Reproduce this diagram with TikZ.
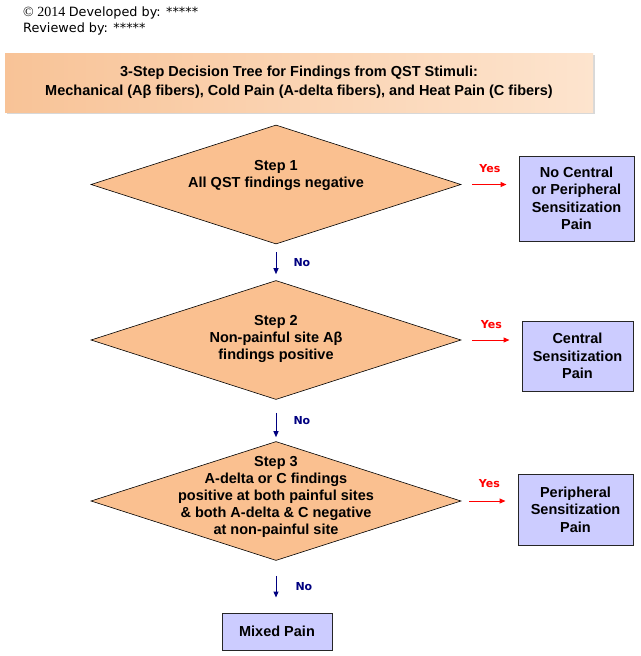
\documentclass[tikz,border=0pt]{standalone}
\usepackage{fontspec}
\setmainfont{Liberation Sans}
\newfontfamily\tahoma{DejaVu Sans}
\newfontfamily\timesf{Liberation Serif}
\usetikzlibrary{shapes.geometric,arrows.meta,shadows}
\definecolor{stepfill}{HTML}{FAC090}
\definecolor{resultfill}{HTML}{CCCCFF}
\definecolor{titledark}{HTML}{F8C397}
\definecolor{titlelight}{HTML}{FDE4CE}
\definecolor{noblue}{HTML}{000080}
\tikzset{
  decision/.style={diamond, draw=black, line width=0.6pt, fill=stepfill,
    minimum width=370pt, minimum height=119pt, inner sep=0pt},
  steptext/.style={align=center, font=\bfseries\fontsize{14.5}{17}\selectfont, inner sep=0pt},
  result/.style={rectangle, draw=black!85, line width=1pt, fill=resultfill, align=center,
    font=\bfseries\fontsize{14.5}{17.5}\selectfont, inner sep=0pt},
  yesarrow/.style={draw=red, line width=1pt, -{Triangle[length=6pt,width=5pt]},
    shorten <=11pt, shorten >=12pt},
  noarrow/.style={draw=noblue, line width=1pt, -{Triangle[length=6pt,width=5pt]}},
  yeslabel/.style={text=red, font=\tahoma\bfseries\fontsize{11}{12}\selectfont, inner sep=0pt},
  nolabel/.style={text=noblue, font=\tahoma\bfseries\fontsize{11}{12}\selectfont, inner sep=0pt},
}
\begin{document}
\begin{tikzpicture}[x=1pt,y=-1pt]
   \useasboundingbox[fill=white] (0,0) rectangle (640,656);

   \node[anchor=west, inner sep=0pt, font=\fontsize{12.8}{14}\selectfont] (dev) at (23,13)
     {{\timesf\fontsize{14}{14}\selectfont © 2014} \tahoma Developed by: *****};
   \node[anchor=west, inner sep=0pt, font=\tahoma\fontsize{12.8}{14}\selectfont] (rev) at (23,29)
     {Reviewed by: *****};

   \node[rectangle, left color=titledark, right color=titlelight, minimum width=588pt,
     minimum height=59pt, inner sep=0pt, align=center,
     drop shadow={shadow xshift=2pt, shadow yshift=-2pt, opacity=0.3},
     font=\bfseries\fontsize{14.5}{19}\selectfont] (title) at (299,82.5)
     {3-Step Decision Tree for Findings from QST Stimuli:\\
      Mechanical (Aβ fibers), Cold Pain (A-delta fibers), and Heat Pain (C fibers)};

   \node[decision] (d1) at (276,184.5) {};
   \node[steptext] (t1) at (276,175) {Step 1\\All QST findings negative};
   \node[result, minimum width=115pt, minimum height=85pt] (b1) at (576.5,198.5)
     {No Central\\or Peripheral\\Sensitization\\Pain};

   \node[decision] (d2) at (276,340) {};
   \node[steptext] (t2) at (276,339) {Step 2\\Non-painful site Aβ\\findings positive};
   \node[result, minimum width=111pt, minimum height=70pt] (b2) at (577.5,356)
     {Central\\Sensitization\\Pain};

   \node[decision] (d3) at (276,501) {};
   \node[steptext] (t3) at (276,497) {Step 3\\A-delta or C findings\\positive at both painful sites\\
     \& both A-delta \& C negative\\at non-painful site};
   \node[result, minimum width=115pt, minimum height=71pt] (b3) at (575.5,509.5)
     {Peripheral\\Sensitization\\Pain};

   \node[result, minimum width=110pt, minimum height=37pt] (mix) at (277,631.5) {Mixed Pain};

   \draw[yesarrow] (d1.east) -- (d1.east -| b1.west) node[yeslabel, midway, above=11pt] {Yes};
   \draw[yesarrow] (d2.east) -- (d2.east -| b2.west) node[yeslabel, midway, above=11pt] {Yes};
   \draw[yesarrow, shorten <=8pt] (d3.east) -- (d3.east -| b3.west) node[yeslabel, midway, above=13pt] {Yes};

   \draw[noarrow, shorten <=8pt, shorten >=6pt] (d1.south) -- (d2.north) node[nolabel, midway, right=17pt] {No};
   \draw[noarrow, shorten <=13pt, shorten >=4pt] (d2.south) -- (d3.north) node[nolabel, midway, right=17pt] {No};
   \draw[noarrow, shorten <=15pt, shorten >=15pt] (d3.south) -- (d3.south |- mix.north) node[nolabel, midway, right=19pt] {No};
 \end{tikzpicture}
\end{document}
